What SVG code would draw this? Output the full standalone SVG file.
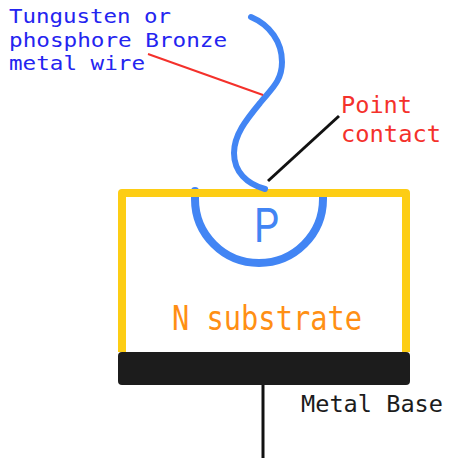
<svg xmlns="http://www.w3.org/2000/svg" width="450" height="459" viewBox="0 0 450 459">
<style>
text{font-family:"DejaVu Sans Mono","Liberation Mono",monospace}
.wire{fill:none;stroke:#4285f4;stroke-linecap:round}
</style>
<rect width="450" height="459" fill="#fff"/>
<g id="p-region">
<path class="wire" stroke-width="8" d="M195 191V199A64 64 0 0 0 323 199V196"/>
<text x="254" y="242" font-size="49" fill="#4285f4" textLength="25" lengthAdjust="spacingAndGlyphs" style="font-family:Roboto,sans-serif;font-weight:400">P</text>
</g>
<g id="substrate">
<path d="M122 352V193H406V352" fill="none" stroke="#fdcd14" stroke-width="8" stroke-linejoin="round"/>
<text x="172" y="330" font-size="34" fill="#ff8f14" textLength="190" lengthAdjust="spacingAndGlyphs">N substrate</text>
</g>
<g id="metal-base">
<rect x="118" y="352" width="292" height="33" rx="4" fill="#1c1c1c"/>
<text x="301" y="412" font-size="23" fill="#1c1c1c" textLength="142" lengthAdjust="spacingAndGlyphs">Metal Base</text>
</g>
<g id="wire">
<path class="wire" stroke-width="6" d="M251 17C270 25 282 42 282 62C282 82 270 90 260 103C246 120 234 135 234 153C234 172 247 184 265 189"/>
<text font-size="20" fill="#2424f0"><tspan x="9" y="23" textLength="162" lengthAdjust="spacingAndGlyphs">Tungusten or</tspan><tspan x="9" y="47" textLength="218" lengthAdjust="spacingAndGlyphs">phosphore Bronze</tspan><tspan x="9" y="70" textLength="136" lengthAdjust="spacingAndGlyphs">metal wire</tspan></text>
</g>
<g id="point-contact">
<text font-size="23.5" fill="#f4312b"><tspan x="341" y="113" textLength="71" lengthAdjust="spacingAndGlyphs">Point</tspan><tspan x="341" y="142" textLength="100" lengthAdjust="spacingAndGlyphs">contact</tspan></text>
</g>
<g id="connectors" fill="none">
<path d="M148 54L263 95" stroke="#f4312b" stroke-width="2"/>
<path d="M268 181L339 116" stroke="#111" stroke-width="3"/>
<path d="M263 385V458" stroke="#111" stroke-width="3"/>
</g>
</svg>
